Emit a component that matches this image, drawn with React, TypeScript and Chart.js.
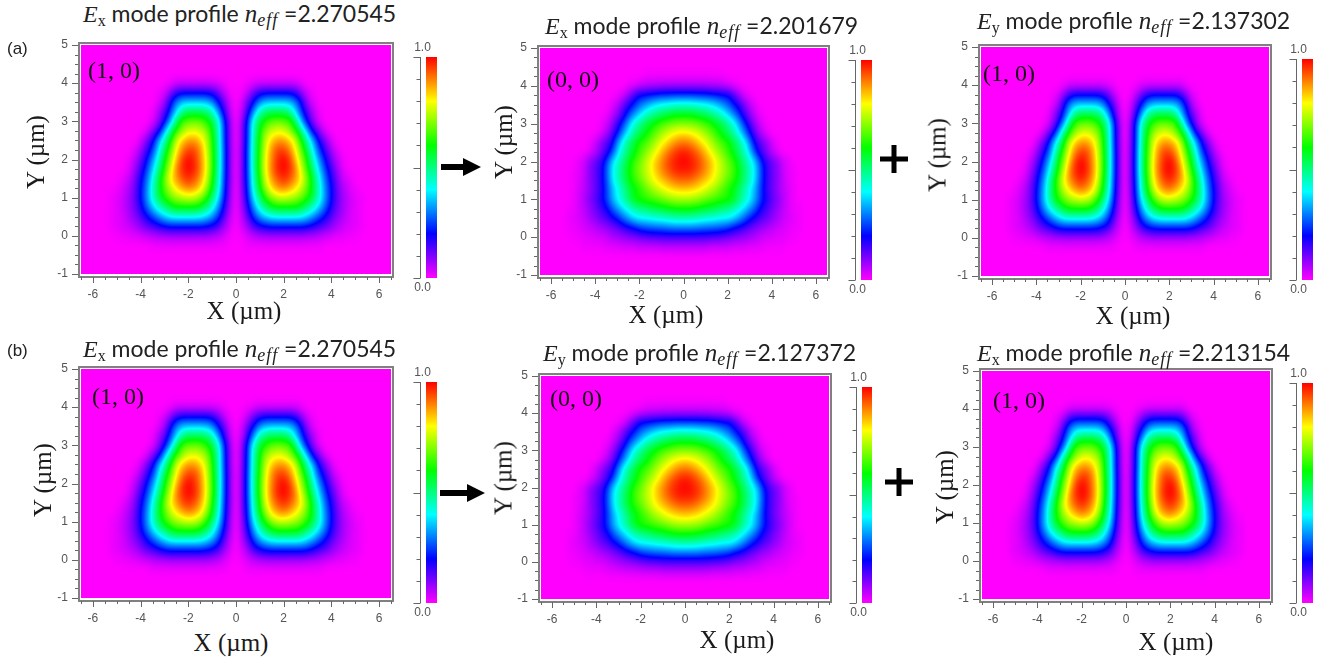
import React, { useEffect, useRef } from "react";
import { Chart, registerables } from "chart.js";

Chart.register(...registerables);

// Values estimated by eye from the colour contours of the picture, in percent of the 0..1 colour scale.
// Profiles are stored for x >= 0 and mirrored at x = 0.
const X_COLS = [0, 0.25, 0.5, 0.75, 1, 1.25, 1.5, 1.75, 2, 2.25, 2.5, 2.75, 3, 3.25, 3.5, 3.75, 4, 4.25, 4.5, 4.75, 5, 5.25, 5.5];
const Y_ROWS = [4.25, 4, 3.75, 3.5, 3.25, 3, 2.75, 2.5, 2.25, 2, 1.75, 1.5, 1.25, 1, 0.75, 0.5, 0.25, 0, -0.25, -0.5];

const MODE_10 = [
  [0,0,0,0,0,0,0,0,0,0,0,0,0,0,0,0,0,0,0,0,0,0,0],
  [0,0,1,2,3,3,3,3,3,3,3,1,0,0,0,0,0,0,0,0,0,0,0],
  [0,1,5,12,17,19,19,19,19,19,16,9,3,1,0,0,0,0,0,0,0,0,0],
  [0,3,12,21,31,35,36,36,36,35,30,19,7,2,0,0,0,0,0,0,0,0,0],
  [0,5,17,32,46,52,54,54,54,49,37,24,13,6,1,0,0,0,0,0,0,0,0],
  [0,8,24,44,56,63,67,68,67,65,52,33,19,8,2,0,0,0,0,0,0,0,0],
  [0,9,25,46,60,71,76,78,77,71,63,50,33,17,9,2,0,0,0,0,0,0,0],
  [0,9,25,47,62,76,84,88,88,84,76,60,46,33,18,10,3,0,0,0,0,0,0],
  [0,10,26,48,63,78,89,95,95,90,80,67,53,38,24,15,7,2,0,0,0,0,0],
  [0,10,26,48,64,80,90,97,100,96,85,72,59,44,31,20,11,5,1,0,0,0,0],
  [0,10,26,48,64,80,91,98,100,97,90,76,63,49,36,24,15,7,2,0,0,0,0],
  [0,10,25,46,62,78,88,94,97,94,88,81,68,55,41,28,18,10,4,2,0,0,0],
  [0,9,24,44,59,73,83,88,90,87,82,75,66,56,43,30,20,11,6,3,1,0,0],
  [0,8,22,39,52,63,71,75,76,74,72,68,62,54,43,31,20,12,7,4,2,1,0],
  [0,7,18,32,43,52,57,60,60,60,60,56,50,44,36,27,18,11,7,4,2,1,0],
  [0,5,13,24,32,37,40,41,41,41,41,40,36,31,25,19,13,9,6,3,2,1,0],
  [0,3,8,14,18,20,21,21,21,21,21,21,20,17,14,12,9,6,4,3,2,1,0],
  [0,1,3,5,6,7,7,7,7,7,7,7,6,6,5,4,3,2,2,1,1,0,0],
  [0,0,1,1,1,1,1,1,1,1,1,1,1,1,1,0,0,0,0,0,0,0,0],
  [0,0,0,0,0,0,0,0,0,0,0,0,0,0,0,0,0,0,0,0,0,0,0],
];

const MODE_00 = [
  [1,1,1,1,1,1,1,1,0,0,0,0,0,0,0,0,0,0,0,0,0,0,0],
  [7,7,7,7,7,6,6,5,4,2,1,0,0,0,0,0,0,0,0,0,0,0,0],
  [25,25,25,24,24,23,22,21,20,15,8,3,1,0,0,0,0,0,0,0,0,0,0],
  [44,44,43,42,41,39,36,32,28,22,17,11,5,2,0,0,0,0,0,0,0,0,0],
  [58,58,57,55,53,50,47,43,37,31,24,15,9,4,1,0,0,0,0,0,0,0,0],
  [70,70,69,67,65,62,58,54,49,43,34,24,15,8,3,1,0,0,0,0,0,0,0],
  [82,81,79,76,72,68,63,58,53,48,40,31,21,12,6,2,0,0,0,0,0,0,0],
  [91,90,87,83,79,74,69,65,62,56,50,42,31,18,13,9,4,1,0,0,0,0,0],
  [98,97,94,90,85,79,74,69,64,58,52,45,36,24,15,10,5,2,0,0,0,0,0],
  [100,99,97,94,89,85,79,74,68,64,57,50,44,36,24,16,12,9,4,2,0,0,0],
  [98,98,96,93,89,84,79,74,70,65,59,52,45,38,26,17,12,9,4,2,1,0,0],
  [92,92,90,87,84,81,77,72,67,63,58,51,45,37,25,17,12,9,5,2,1,0,0],
  [84,83,82,80,77,74,70,66,62,58,53,46,40,33,24,16,12,8,5,3,1,0,0],
  [73,73,72,70,68,66,65,63,62,59,52,46,40,33,24,18,13,10,6,3,1,0,0],
  [60,60,59,58,56,55,53,51,49,46,42,37,32,26,19,15,11,8,5,3,1,1,0],
  [46,46,45,44,43,42,41,40,40,38,33,28,22,18,14,12,9,7,4,3,2,1,0],
  [30,30,30,29,28,28,27,26,24,20,18,15,12,10,8,7,5,4,3,2,1,1,0],
  [14,14,14,14,14,13,13,12,11,10,9,8,7,6,4,3,3,2,2,1,1,0,0],
  [5,5,5,5,5,4,4,4,4,3,3,3,2,2,2,1,1,1,1,0,0,0,0],
  [0,0,0,0,0,0,0,0,0,0,0,0,0,0,0,0,0,0,0,0,0,0,0],
];

const COLOR_POS = [0, 0.2, 0.4, 0.6, 0.8, 1];
const COLOR_RGB = [[255,0,255],[0,0,255],[0,255,255],[0,255,0],[255,255,0],[255,0,0]];

const X_MIN = -6.5, X_MAX = 6.5, Y_MIN = -1, Y_MAX = 5;
const X_TICK_STEP = 0.5, Y_TICK_STEP = 0.25;
const BAR_TICKS = [0,0.1,0.2,0.3,0.4,0.5,0.6,0.7,0.8,0.9,1];

const SERIF = "'Liberation Serif', serif";
const SANS = "'Liberation Sans', sans-serif";
const GREY = "#808080";
const TICK_TEXT = "#555555";

function colorOf(v: number) {
  const t = Math.max(0, Math.min(1, v));
  let i = 0;
  while (i < COLOR_POS.length - 2 && t > COLOR_POS[i + 1]) i++;
  const f = (t - COLOR_POS[i]) / (COLOR_POS[i + 1] - COLOR_POS[i]);
  return COLOR_RGB[i].map((c, k) => c + (COLOR_RGB[i + 1][k] - c) * f);
}

function weights(f: number) {
  const g = 1 - f;
  return [g * g * g / 6, (3 * f * f * f - 6 * f * f + 4) / 6, (-3 * f * f * f + 3 * f * f + 3 * f + 1) / 6, f * f * f / 6];
}

// Smooth paint of the grid values: the cells are blended by a paint-side kernel only.
function sample(grid: number[][], xv: number, yv: number) {
  const step = X_COLS[1] - X_COLS[0];
  const cx = Math.abs(xv) / step;
  const cy = (Y_ROWS[0] - yv) / step;
  const i = Math.floor(cx), j = Math.floor(cy);
  const wx = weights(cx - i), wy = weights(cy - j);
  let s = 0;
  for (let b = 0; b < 4; b++) {
    const row = grid[j - 1 + b];
    if (!row) continue;
    for (let a = 0; a < 4; a++) {
      const v = row[Math.abs(i - 1 + a)];
      if (v) s += v * wx[a] * wy[b];
    }
  }
  return s / 100;
}

const heatPlugin = {
  id: "heat",
  beforeDatasetsDraw(chart: any) {
    const grid = chart.data.datasets[0].grid;
    const { left, top, width, height } = chart.chartArea;
    const l = Math.round(left), t = Math.round(top), w = Math.round(width), h = Math.round(height);
    const img = chart.ctx.createImageData(w, h);
    for (let py = 0; py < h; py++) {
      const yv = chart.scales.y.getValueForPixel(t + py + 0.5);
      for (let px = 0; px < w; px++) {
        const xv = chart.scales.x.getValueForPixel(l + px + 0.5);
        const c = colorOf(sample(grid, xv, yv));
        const o = (py * w + px) * 4;
        img.data[o] = c[0]; img.data[o + 1] = c[1]; img.data[o + 2] = c[2]; img.data[o + 3] = 255;
      }
    }
    chart.ctx.putImageData(img, l, t);
  },
  afterDraw(chart: any) {
    const { ctx, chartArea: a, scales } = chart;
    ctx.save();
    ctx.strokeStyle = GREY;
    ctx.lineWidth = 2;
    ctx.strokeRect(a.left - 2, a.top - 2, a.right - a.left + 4, a.bottom - a.top + 5);
    ctx.lineWidth = 1;
    ctx.strokeStyle = "#666666";
    ctx.beginPath();
    scales.x.ticks.forEach((tk: any) => {
      const p = Math.round(scales.x.getPixelForValue(tk.value)) + 0.5;
      const len = Number.isInteger(tk.value / 2) ? 6 : 3;
      ctx.moveTo(p, a.bottom + 3);
      ctx.lineTo(p, a.bottom + 3 + len);
    });
    scales.y.ticks.forEach((tk: any) => {
      const p = Math.round(scales.y.getPixelForValue(tk.value)) + 0.5;
      const len = Number.isInteger(tk.value) ? 6 : 3;
      ctx.moveTo(a.left - 3, p);
      ctx.lineTo(a.left - 3 - len, p);
    });
    ctx.stroke();
    ctx.restore();
  },
};

function HeatChart({ grid, L, R, T, B }: any) {
  const ref = useRef<HTMLCanvasElement>(null);
  const mL = 40, mR = 6, mT = 8, mB = 30;
  useEffect(() => {
    const pts: any[] = [];
    Y_ROWS.forEach((y, j) => X_COLS.forEach((x, i) => {
      pts.push({ x, y, v: grid[j][i] / 100 });
      if (x > 0) pts.push({ x: -x, y, v: grid[j][i] / 100 });
    }));
    const tickFont = { family: "'Liberation Sans'", size: 12 };
    const zeroPad = (s: any) => { s.paddingTop = 0; s.paddingBottom = 0; s.paddingLeft = 0; s.paddingRight = 0; };
    const chart = new Chart(ref.current as any, {
      type: "scatter",
      data: { datasets: [{ data: pts, grid, pointRadius: 0 } as any] },
      plugins: [heatPlugin as any],
      options: {
        animation: false, responsive: false,
        layout: { autoPadding: false, padding: { top: mT, right: mR, left: 0, bottom: 0 } },
        plugins: { legend: { display: false }, tooltip: { enabled: false } },
        scales: {
          x: {
            type: "linear", min: X_MIN, max: X_MAX,
            grid: { display: false }, border: { display: false },
            afterFit: (s: any) => { s.height = mB; zeroPad(s); },
            ticks: {
              stepSize: X_TICK_STEP, autoSkip: false, maxRotation: 0, padding: 5, color: TICK_TEXT, font: tickFont,
              callback: (v: any) => (Number.isInteger(v / 2) ? String(v) : ""),
            },
          },
          y: {
            type: "linear", min: Y_MIN, max: Y_MAX,
            grid: { display: false }, border: { display: false },
            afterFit: (s: any) => { s.width = mL; zeroPad(s); },
            ticks: {
              stepSize: Y_TICK_STEP, autoSkip: false, padding: 5, color: TICK_TEXT, font: tickFont,
              callback: (v: any) => (Number.isInteger(v) ? String(v) : ""),
            },
          },
        },
      } as any,
    });
    return () => chart.destroy();
  }, []);
  return (
    <canvas ref={ref} width={R - L + mL + mR} height={B - T + mT + mB}
      style={{ position: "absolute", left: L - mL, top: T - mT, width: R - L + mL + mR, height: B - T + mT + mB }} />
  );
}

const barPlugin = {
  id: "barAxis",
  afterDraw(chart: any) {
    const { ctx, chartArea: a, scales } = chart;
    const ax = a.left - 5.5;
    ctx.save();
    ctx.strokeStyle = "#666666";
    ctx.lineWidth = 1;
    ctx.beginPath();
    ctx.moveTo(ax, scales.y.getPixelForValue(0));
    ctx.lineTo(ax, scales.y.getPixelForValue(1));
    BAR_TICKS.forEach((v) => {
      const p = Math.round(scales.y.getPixelForValue(v)) + 0.5;
      const big = v === 0 || v === 1 || v === 0.5;
      ctx.moveTo(ax, p);
      ctx.lineTo(ax - (big ? 7 : 4), p);
    });
    ctx.stroke();
    ctx.fillStyle = TICK_TEXT;
    ctx.font = "12px 'Liberation Sans'";
    ctx.textAlign = "center";
    ctx.textBaseline = "middle";
    ctx.fillText("1.0", ax + 2, scales.y.getPixelForValue(1) - 9);
    ctx.fillText("0.0", ax + 2, scales.y.getPixelForValue(0) + 10);
    ctx.restore();
  },
};

function ColorBar({ L, R, T, B }: any) {
  const ref = useRef<HTMLCanvasElement>(null);
  const pL = 18, pR = 2, pT = 18, pB = 20;
  useEffect(() => {
    const chart = new Chart(ref.current as any, {
      type: "bar",
      data: {
        labels: ["scale"],
        datasets: [{
          data: [[0, 1]] as any,
          barPercentage: 1, categoryPercentage: 1,
          backgroundColor: (c: any) => {
            const { chart: ch } = c;
            if (!ch.chartArea) return "#fff";
            const g = ch.ctx.createLinearGradient(0, ch.scales.y.getPixelForValue(0), 0, ch.scales.y.getPixelForValue(1));
            COLOR_POS.forEach((p, i) => g.addColorStop(p, `rgb(${COLOR_RGB[i].join(",")})`));
            return g;
          },
        }],
      },
      plugins: [barPlugin as any],
      options: {
        animation: false, responsive: false,
        layout: { padding: { left: pL, right: pR, top: pT, bottom: pB } },
        plugins: { legend: { display: false }, tooltip: { enabled: false } },
        scales: { x: { display: false }, y: { display: false, min: 0, max: 1 } },
      } as any,
    });
    return () => chart.destroy();
  }, []);
  return (
    <canvas ref={ref} width={R - L + pL + pR} height={B - T + pT + pB}
      style={{ position: "absolute", left: L - pL, top: T - pT, width: R - L + pL + pR, height: B - T + pT + pB }} />
  );
}

function Label({ x, y, children, style }: any) {
  return <div style={{ position: "absolute", left: x, top: y, whiteSpace: "nowrap", transform: "translateY(-50%)", lineHeight: 1, ...style }}>{children}</div>;
}

function Title({ x, y, pol, n }: any) {
  return (
    <Label x={x} y={y} style={{ fontFamily: "Lato", fontSize: 23, color: "#222" }}>
      <span style={{ fontFamily: SERIF, fontStyle: "italic", fontSize: 24 }}>E</span>
      <span style={{ fontFamily: SERIF, fontSize: 16, position: "relative", top: 4 }}>{pol}</span>
      <span> mode profile </span>
      <span style={{ fontFamily: SERIF, fontStyle: "italic", fontSize: 25 }}>n</span>
      <span style={{ fontFamily: SERIF, fontStyle: "italic", fontSize: 18, position: "relative", top: 4, letterSpacing: 1 }}>eff</span>
      <span> ={n}</span>
    </Label>
  );
}

const PANELS = [
  { grid: MODE_10, L: 81, R: 391, T: 45, B: 274, bar: [426, 437, 57, 278], pol: "x", n: "2.270545", tx: 83, ty: 13, mode: "(1, 0)", mx: 88, my: 70, xt: [244, 310], yt: [35, 152] },
  { grid: MODE_00, L: 540, R: 827, T: 48, B: 275, bar: [861, 872, 60, 280], pol: "x", n: "2.201679", tx: 545, ty: 25, mode: "(0, 0)", mx: 547, my: 79, xt: [666, 314], yt: [503, 142] },
  { grid: MODE_10, L: 981, R: 1269, T: 47, B: 276, bar: [1302, 1313, 59, 280], pol: "y", n: "2.137302", tx: 977, ty: 20, mode: "(1, 0)", mx: 983, my: 73, xt: [1133, 315], yt: [937, 155] },
  { grid: MODE_10, L: 81, R: 391, T: 369, B: 598, bar: [426, 437, 382, 603], pol: "x", n: "2.270545", tx: 83, ty: 348, mode: "(1, 0)", mx: 92, my: 396, xt: [231, 642], yt: [42, 480] },
  { grid: MODE_00, L: 541, R: 829, T: 376, B: 599, bar: [862, 872, 387, 603], pol: "y", n: "2.127372", tx: 543, ty: 352, mode: "(0, 0)", mx: 550, my: 398, xt: [737, 639], yt: [503, 478] },
  { grid: MODE_10, L: 982, R: 1270, T: 371, B: 599, bar: [1302, 1313, 383, 603], pol: "x", n: "2.213154", tx: 977, ty: 352, mode: "(1, 0)", mx: 993, my: 400, xt: [1176, 641], yt: [944, 487] },
];

const ARROWS = [
  { x0: 441, x1: 481, head: 463, y: 167 },
  { x0: 440, x1: 485, head: 467, y: 493 },
];
const PLUSES = [
  { x: 894, y: 159 },
  { x: 899, y: 482 },
];

export default function App() {
  const axisStyle = { fontFamily: SERIF, fontSize: 25, color: "#1a1a1a" };
  return (
    <div style={{ position: "absolute", left: 0, top: 0, width: 1329, height: 660, background: "#fff", overflow: "hidden" }}>
      {PANELS.map((p, i) => (
        <React.Fragment key={i}>
          <HeatChart grid={p.grid} L={p.L} R={p.R} T={p.T} B={p.B} />
          <ColorBar L={p.bar[0]} R={p.bar[1]} T={p.bar[2]} B={p.bar[3]} />
          <Title x={p.tx} y={p.ty} pol={p.pol} n={p.n} />
          <Label x={p.mx} y={p.my} style={{ fontFamily: SERIF, fontSize: 24, color: "#111" }}>{p.mode}</Label>
          <div style={{ position: "absolute", left: p.xt[0], top: p.xt[1], transform: "translate(-50%,-50%)", whiteSpace: "nowrap", lineHeight: 1, ...axisStyle }}>X (µm)</div>
          <div style={{ position: "absolute", left: p.yt[0], top: p.yt[1], transform: "translate(-50%,-50%) rotate(-90deg)", whiteSpace: "nowrap", lineHeight: 1, ...axisStyle }}>Y (µm)</div>
        </React.Fragment>
      ))}
      <Label x={7} y={48} style={{ fontFamily: SANS, fontSize: 17, color: "#222" }}>(a)</Label>
      <Label x={7} y={350} style={{ fontFamily: SANS, fontSize: 17, color: "#222" }}>(b)</Label>
      <svg width={1329} height={660} style={{ position: "absolute", left: 0, top: 0, pointerEvents: "none" }}>
        {ARROWS.map((a, i) => (
          <polygon key={i} fill="#000"
            points={`${a.x0},${a.y - 3} ${a.head},${a.y - 3} ${a.head},${a.y - 9} ${a.x1},${a.y} ${a.head},${a.y + 9} ${a.head},${a.y + 3} ${a.x0},${a.y + 3}`} />
        ))}
        {PLUSES.map((p, i) => (
          <g key={i} fill="#000">
            <rect x={p.x - 14} y={p.y - 2.5} width={28} height={5} />
            <rect x={p.x - 2.5} y={p.y - 14} width={5} height={28} />
          </g>
        ))}
      </svg>
    </div>
  );
}
